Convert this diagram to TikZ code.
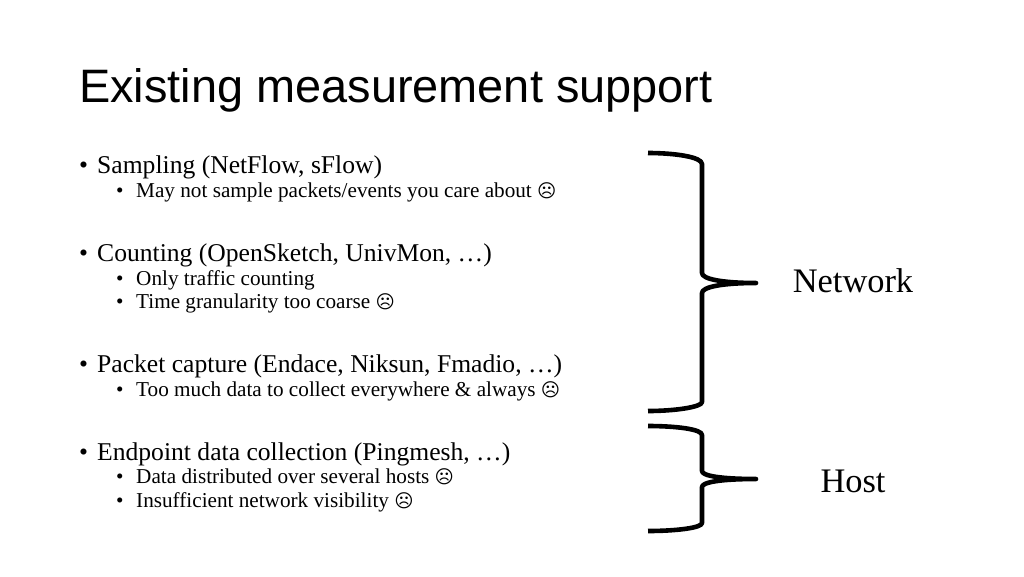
\documentclass[tikz,border=0pt]{standalone}
\usepackage{fontspec}
\setmainfont{Liberation Serif}
\newfontfamily\titlefont{Liberation Sans}
\newfontfamily\symfont{DejaVu Sans}
\newcommand{\frownie}{{\symfont\fontsize{18.5}{20}\selectfont\char"2639}}
\tikzset{
  x=1pt,y=-1pt,
  title/.style={anchor=base west,inner sep=0pt,font=\titlefont\fontsize{46.9}{50}\selectfont},
  lone/.style={anchor=base west,inner sep=0pt,font=\fontsize{25.6}{28}\selectfont},
  ltwo/.style={anchor=base west,inner sep=0pt,font=\fontsize{21.2}{24}\selectfont},
  side/.style={anchor=base,inner sep=0pt,font=\fontsize{34.4}{38}\selectfont},
  bracepath/.style={line width=4.6pt,black,line join=round}
}
\begin{document}
\begin{tikzpicture}
\useasboundingbox (0,0) rectangle (1024,576);
\node[title] (t) at (79,102) {Existing measurement support};
\node[lone] (a) at (79,173) {•};
\node[lone] (a1) at (97,173) {Sampling (NetFlow, sFlow)};
\node[ltwo] (a2b) at (116,197) {•};
\node[ltwo] (a2) at (136,197) {May not sample packets/events you care about \frownie};
\node[lone] (b) at (79,261) {•};
\node[lone] (b1) at (97,261) {Counting (OpenSketch, UnivMon, …)};
\node[ltwo] (b2b) at (116,285) {•};
\node[ltwo] (b2) at (136,285) {Only traffic counting};
\node[ltwo] (b3b) at (116,308) {•};
\node[ltwo] (b3) at (136,308) {Time granularity too coarse \frownie};
\node[lone] (c) at (79,372) {•};
\node[lone] (c1) at (97,372) {Packet capture (Endace, Niksun, Fmadio, …)};
\node[ltwo] (c2b) at (116,396) {•};
\node[ltwo] (c2) at (136,396) {Too much data to collect everywhere \& always \frownie};
\node[lone] (d) at (79,460) {•};
\node[lone] (d1) at (97,460) {Endpoint data collection (Pingmesh, …)};
\node[ltwo] (d2b) at (116,483) {•};
\node[ltwo] (d2) at (136,483) {Data distributed over several hosts \frownie};
\node[ltwo] (d3b) at (116,507) {•};
\node[ltwo] (d3) at (136,507) {Insufficient network visibility \frownie};
\node[side] (n) at (853,292) {Network};
\node[side] (h) at (853,492) {Host};
\draw[bracepath] (648,153) .. controls (675,153) and (702,157) .. (702,164)
  -- (702,273) .. controls (702,279) and (722,283) .. (756,283)
  .. controls (722,283) and (702,287) .. (702,293)
  -- (702,402) .. controls (702,407) and (675,411) .. (648,411);
\draw[bracepath] (648,426) .. controls (675,426) and (702,429) .. (702,435)
  -- (702,471) .. controls (702,476) and (722,479) .. (756,479)
  .. controls (722,479) and (702,482) .. (702,487)
  -- (702,523) .. controls (702,528) and (675,531) .. (648,531);
\end{tikzpicture}
\end{document}
